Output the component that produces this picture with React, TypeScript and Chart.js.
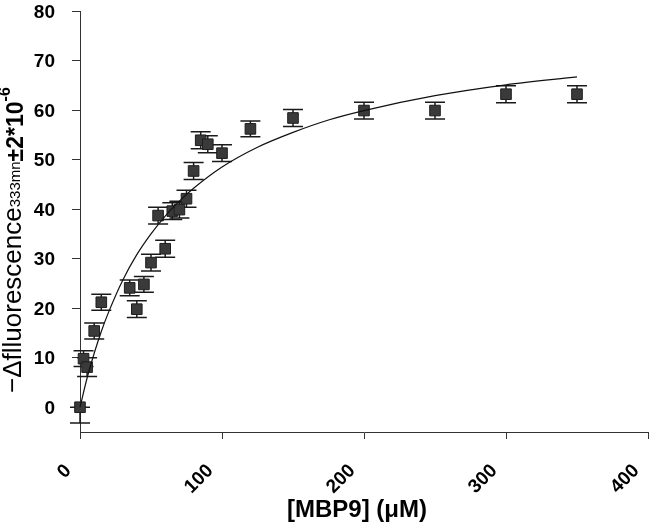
import React, { useEffect, useRef } from 'react';
import { Chart, registerables } from 'chart.js';

Chart.register(...registerables);

// ---- data ----
const concentrations = [0, 2.5, 5, 10, 15, 35, 40, 45, 50, 55, 60, 65, 70, 75, 80, 85, 90, 100, 120, 150, 200, 250, 300, 350];
const fluorescence = [0, 9.8, 8.1, 15.4, 21.2, 24.1, 19.8, 24.8, 29.2, 38.7, 32.0, 39.6, 39.9, 42.1, 47.7, 53.9, 53.1, 51.3, 56.2, 58.4, 59.9, 59.9, 63.2, 63.2];
const errorUp = [0, 1.6, 1.9, 1.6, 1.6, 1.6, 1.7, 1.6, 1.7, 1.7, 1.7, 1.7, 1.7, 1.7, 1.7, 1.7, 1.7, 1.7, 1.6, 1.7, 1.7, 1.7, 1.7, 1.7];
const errorDown = [3.2, 1.6, 1.9, 1.6, 1.6, 1.6, 1.7, 1.6, 1.7, 1.7, 1.7, 1.7, 1.7, 1.7, 1.7, 1.7, 1.7, 1.7, 1.6, 1.7, 1.7, 1.7, 1.7, 1.7];

const fitX = [0, 5, 10, 15, 20, 30, 40, 50, 60, 70, 80, 100, 125, 150, 175, 200, 250, 300, 350];
const fitY = [0, 5.9, 10.9, 15.3, 19.1, 25.6, 30.8, 35.0, 38.6, 41.6, 44.2, 48.5, 52.5, 55.5, 58.0, 59.9, 62.9, 65.1, 66.7];

const xTicks = [0, 100, 200, 300, 400];
const yTicks = [0, 10, 20, 30, 40, 50, 60, 70, 80];

const xTitle = '[MBP9] (\u03BCM)';
const yTitleMain = '\u2212\u0394flluorescence';
const yTitleSub = '333mn';
const yTitleMid = '\u00B12*10';
const yTitleSup = '-6';

const FONT = '"Liberation Sans", Arial, sans-serif';

const errorBarPlugin = {
  id: 'errorBars',
  beforeDatasetsDraw(chart: any) {
    const { ctx, scales } = chart;
    const xs = scales.x;
    const ys = scales.y;
    ctx.save();
    ctx.strokeStyle = '#1a1a1a';
    ctx.lineWidth = 1.5;
    concentrations.forEach((c, i) => {
      const px = xs.getPixelForValue(c);
      const top = ys.getPixelForValue(fluorescence[i] + errorUp[i]);
      const bot = ys.getPixelForValue(fluorescence[i] - errorDown[i]);
      ctx.beginPath();
      ctx.moveTo(px, top);
      ctx.lineTo(px, bot);
      ctx.moveTo(px - 10, top);
      ctx.lineTo(px + 10, top);
      ctx.moveTo(px - 10, bot);
      ctx.lineTo(px + 10, bot);
      ctx.stroke();
    });
    ctx.restore();
  },
};

const labelsPlugin = {
  id: 'labels',
  afterDraw(chart: any) {
    const { ctx, chartArea, scales } = chart;
    ctx.save();
    ctx.fillStyle = '#000';

    // y tick labels (right edge at x = 55)
    ctx.font = `bold 19px ${FONT}`;
    ctx.textAlign = 'right';
    ctx.textBaseline = 'middle';
    yTicks.forEach((v) => {
      ctx.fillText(String(v), 55, scales.y.getPixelForValue(v) + 1.5);
    });

    // x tick labels, rotated 45 degrees
    ctx.textBaseline = 'alphabetic';
    xTicks.forEach((v) => {
      const px = scales.x.getPixelForValue(v);
      ctx.save();
      ctx.translate(px - 8, chartArea.bottom + 39.5);
      ctx.rotate(-Math.PI / 4);
      ctx.fillText(String(v), 0, 0);
      ctx.restore();
    });

    // x title
    ctx.font = `bold 24px ${FONT}`;
    ctx.textAlign = 'center';
    ctx.fillText(xTitle, 357, 517);

    // y title (rotated, built from pieces)
    const pieces = [
      { text: yTitleMain, font: `26px ${FONT}`, x: 21 },
      { text: yTitleSub, font: `15px ${FONT}`, x: 20 },
      { text: yTitleMid, font: `bold 23px ${FONT}`, x: 23 },
      { text: yTitleSup, font: `bold 16px ${FONT}`, x: 10 },
    ];
    let y = 393;
    ctx.textAlign = 'left';
    for (const p of pieces) {
      ctx.font = p.font;
      const w = ctx.measureText(p.text).width;
      ctx.save();
      ctx.translate(p.x, y);
      ctx.rotate(-Math.PI / 2);
      ctx.fillText(p.text, 0, 0);
      ctx.restore();
      y -= w;
    }
    ctx.restore();
  },
};

export default function App() {
  const canvasRef = useRef<HTMLCanvasElement | null>(null);

  useEffect(() => {
    const canvas = canvasRef.current;
    if (!canvas) return;
    const chart = new Chart(canvas, {
      type: 'scatter',
      data: {
        datasets: [
          {
            type: 'line',
            data: fitX.map((x, i) => ({ x, y: fitY[i] })),
            borderColor: '#111',
            borderWidth: 1.2,
            pointRadius: 0,
            cubicInterpolationMode: 'monotone',
            fill: false,
            order: 0,
            clip: false,
          } as any,
          {
            type: 'scatter',
            data: concentrations.map((x, i) => ({ x, y: fluorescence[i] })),
            pointStyle: 'rect',
            pointRadius: 7.5,
            backgroundColor: '#3a3a3a',
            borderColor: '#1e1e1e',
            borderWidth: 1,
            order: 1,
            clip: false,
          } as any,
        ],
      },
      options: {
        animation: false,
        responsive: false,
        devicePixelRatio: 1,
        layout: { autoPadding: false, padding: { top: 11, right: 2, left: 0, bottom: 0 } },
        plugins: { legend: { display: false }, tooltip: { enabled: false } },
        scales: {
          x: {
            type: 'linear',
            min: 0,
            max: 400,
            afterBuildTicks: (s: any) => {
              s.ticks = xTicks.map((v) => ({ value: v }));
            },
            afterFit: (s: any) => {
              s.height = 92;
              s.paddingLeft = 0;
              s.paddingRight = 0;
            },
            ticks: { display: false, autoSkip: false },
            grid: { drawOnChartArea: false, drawTicks: true, tickLength: 7, color: '#333' },
            border: { display: true, color: '#333', width: 1 },
          },
          y: {
            type: 'linear',
            min: -5,
            max: 80,
            afterBuildTicks: (s: any) => {
              s.ticks = yTicks.map((v) => ({ value: v }));
            },
            afterFit: (s: any) => {
              s.width = 80;
              s.paddingTop = 0;
              s.paddingBottom = 0;
            },
            ticks: { display: false, autoSkip: false },
            grid: { drawOnChartArea: false, drawTicks: true, tickLength: 8, color: '#333' },
            border: { display: true, color: '#333', width: 1 },
          },
        },
      } as any,
      plugins: [errorBarPlugin, labelsPlugin],
    });
    return () => chart.destroy();
  }, []);

  return (
    <div style={{ position: 'absolute', left: 0, top: 0, width: 650, height: 524, background: '#fff' }}>
      <canvas ref={canvasRef} width={650} height={524} />
    </div>
  );
}
